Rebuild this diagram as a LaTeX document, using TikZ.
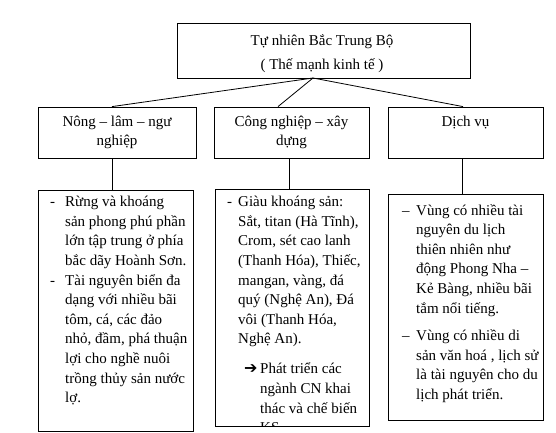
\documentclass[tikz,border=0pt]{standalone}
\usepackage{fontspec}
\setmainfont{Liberation Serif}
\newfontfamily\symfont{DejaVu Sans}
\newcommand\bodyfont{\fontsize{15}{19.6}\selectfont}
\begin{document}
\begin{tikzpicture}[x=1pt,y=-1pt,
  every node/.style={inner sep=0pt, font=\bodyfont},
  box/.style={draw, line width=0.8pt},
  midbox/.style={box, minimum height=51pt, align=center},
  lowbox/.style={box, minimum width=155pt},
  para/.style={anchor=north west, align=left},
  conn/.style={line width=0.8pt}]
\useasboundingbox (0,0) rectangle (556,433);
% top
\node[box, minimum width=293pt, minimum height=55pt] (top) at (323.5,50.5) {};
\node[align=center] (toptext) at (322,53.5)
  {Tự nhiên Bắc Trung Bộ\\[5pt]( Thế mạnh kinh tế )};
\coordinate (hub) at (313,78);
% middle
\node[midbox, minimum width=158pt] (m1) at (117,132.5) {Nông – lâm – ngư\\nghiệp};
\node[midbox, minimum width=155pt] (m2) at (291.5,132.5) {Công nghiệp – xây\\dựng};
\node[midbox, minimum width=155pt] (m3) at (465.5,132.5) {Dịch vụ\\\phantom{y}};
% lower boxes
\node[lowbox, minimum height=241pt] (l1) at (115.5,310.5) {};
\node[lowbox, minimum width=154pt, minimum height=237pt] (l2) at (292,307.5) {};
\node[lowbox, minimum height=226pt] (l3) at (465.5,307) {};
% connectors
\draw[conn] (hub) -- (m1.north -| 112,0);
\draw[conn] (hub) -- (m2.north -| 278,0);
\draw[conn] (hub) -- (m3.north -| 463,0);
\draw[conn] (m1.south -| 112,0) -- (l1.north -| 112,0);
\draw[conn] (m2.south -| 289,0) -- (l2.north -| 289,0);
\draw[conn] (m3.south -| 462,0) -- (l3.north -| 462,0);
% texts
\node[para] (t1) at (50,196) {%
\makebox[15pt][l]{-}Rừng và khoáng\\
\hspace*{15pt}sản phong phú phần\\
\hspace*{15pt}lớn tập trung ở phía\\
\hspace*{15pt}bắc dãy Hoành Sơn.\\
\makebox[15pt][l]{-}Tài nguyên biển đa\\
\hspace*{15pt}dạng với nhiều bãi\\
\hspace*{15pt}tôm, cá, các đảo\\
\hspace*{15pt}nhỏ, đầm, phá thuận\\
\hspace*{15pt}lợi cho nghề nuôi\\
\hspace*{15pt}trồng thủy sản nước\\
\hspace*{15pt}lợ.};
\begin{scope}
\clip (l2.north west) rectangle (l2.south east);
\node[para] (t2) at (227,196) {%
\makebox[11pt][l]{-}Giàu khoáng sản:\\
\hspace*{11pt}Sắt, titan (Hà Tĩnh),\\
\hspace*{11pt}Crom, sét cao lanh\\
\hspace*{11pt}(Thanh Hóa), Thiếc,\\
\hspace*{11pt}mangan, vàng, đá\\
\hspace*{11pt}quý (Nghệ An), Đá\\
\hspace*{11pt}vôi (Thanh Hóa,\\
\hspace*{11pt}Nghệ An).\\[10.5pt]
\hspace*{17pt}\makebox[16pt][l]{\symfont\fontsize{16}{15}\selectfont\bfseries ➔}Phát triển các\\
\hspace*{33pt}ngành CN khai\\
\hspace*{33pt}thác và chế biến\\
\hspace*{33pt}KS.};
\end{scope}
\node[para] (t3) at (402,204) {%
\makebox[14pt][l]{–}Vùng có nhiều tài\\
\hspace*{14pt}nguyên du lịch\\
\hspace*{14pt}thiên nhiên như\\
\hspace*{14pt}động Phong Nha –\\
\hspace*{14pt}Kẻ Bàng, nhiều bãi\\
\hspace*{14pt}tắm nổi tiếng.\\[8pt]
\makebox[14pt][l]{–}Vùng có nhiều di\\
\hspace*{14pt}sản văn hoá , lịch sử\\
\hspace*{14pt}là tài nguyên cho du\\
\hspace*{14pt}lịch phát triển.};
\end{tikzpicture}
\end{document}
